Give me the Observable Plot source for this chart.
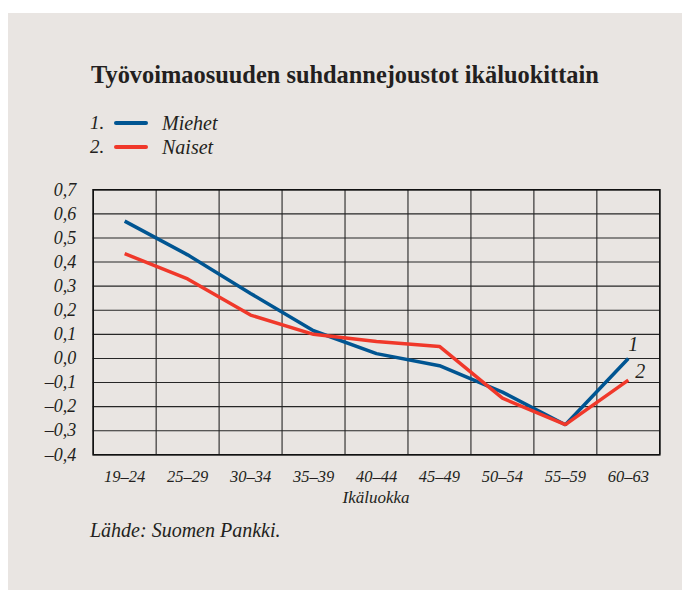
<!DOCTYPE html>
<html>
<head>
<meta charset="utf-8">
<script src="https://cdn.jsdelivr.net/npm/d3@7"></script>
<script src="https://cdn.jsdelivr.net/npm/@observablehq/plot@0.6"></script>
<style>
  html, body { margin: 0; padding: 0; background: #ffffff; }
  #page { position: relative; width: 682px; height: 590px; overflow: hidden; font-family: "Liberation Serif", "DejaVu Serif", serif; color: #231f20; }
  #panel { position: absolute; left: 8px; top: 13px; width: 674px; height: 577px; background: #e9e5e2; }
  #title { position: absolute; left: 91px; top: 62.5px; font-size: 24.4px; font-weight: bold; line-height: 24.4px; white-space: nowrap; }
  .leg { position: absolute; left: 90px; font-size: 19px; font-style: italic; line-height: 20px; white-space: nowrap; }
  .leg .sw { position: absolute; left: 24px; top: 8px; width: 34px; height: 4px; border-radius: 2px; }
  .leg .lab { position: absolute; left: 72px; top: 0; font-size: 20px; }
  #xlabel { position: absolute; left: 276px; width: 200px; text-align: center; top: 489px; font-size: 17px; font-style: italic; line-height: 17px; white-space: nowrap; }
  #caption { position: absolute; left: 90px; top: 520px; font-size: 20px; font-style: italic; line-height: 20px; white-space: nowrap; }
  #chart { position: absolute; left: 0; top: 170px; }
  #chart g[aria-label="y-axis"], #chart g[aria-label="y-axis tick label"] { font-size: 18px; }
</style>
</head>
<body>
<div id="page">
  <div id="panel"></div>
  <div id="title"></div>
  <div id="legend"></div>
  <div id="chart"></div>
  <div id="xlabel"></div>
  <div id="caption"></div>
</div>
<script>
const titleText = "Työvoimaosuuden suhdannejoustot ikäluokittain";
const captionText = "Lähde: Suomen Pankki.";
const xLabel = "Ikäluokka";
const categories = ["19–24", "25–29", "30–34", "35–39", "40–44", "45–49", "50–54", "55–59", "60–63"];
const seriesNames = ["Miehet", "Naiset"];
const seriesNumbers = ["1", "2"];
const seriesColors = ["#005592", "#f0382a"];
const miehet = [0.57, 0.43, 0.27, 0.115, 0.02, -0.03, -0.14, -0.275, 0.0];
const naiset = [0.435, 0.33, 0.18, 0.10, 0.07, 0.05, -0.165, -0.275, -0.09];
const yTicks = [-0.4, -0.3, -0.2, -0.1, 0.0, 0.1, 0.2, 0.3, 0.4, 0.5, 0.6, 0.7];

document.getElementById("title").textContent = titleText;
document.getElementById("caption").textContent = captionText;
document.getElementById("xlabel").textContent = xLabel;

const legend = document.getElementById("legend");
seriesNames.forEach((name, i) => {
  const row = document.createElement("div");
  row.className = "leg";
  row.style.top = (112.5 + i * 24) + "px";
  row.innerHTML = `<span>${seriesNumbers[i]}.</span><span class="sw" style="background:${seriesColors[i]}"></span><span class="lab">${name}</span>`;
  legend.appendChild(row);
});

const rows = [];
[miehet, naiset].forEach((vals, s) => {
  vals.forEach((v, i) => rows.push({series: seriesNames[s], idx: i, value: v}));
});
const last = categories.length - 1;
const ends = seriesNames.map((name, s) => ({
  series: name, idx: last, value: [miehet, naiset][s][last], label: seriesNumbers[s]
}));

const fmt = d => (d < -1e-9 ? "–" : "") + Math.abs(d).toFixed(1).replace(".", ",");
const idx = d3.range(categories.length);
const bounds = d3.range(categories.length + 1).map(i => i - 0.5);

const chart = Plot.plot({
  width: 682,
  height: 350,
  marginLeft: 92.7,
  marginRight: 22.7,
  marginTop: 19.3,
  marginBottom: 65.7,
  style: { background: "transparent", fontFamily: "'Liberation Serif', serif", fontStyle: "italic", fontSize: "16.5px", color: "#231f20" },
  x: { type: "linear", domain: [-0.5, last + 0.5], ticks: idx, tickFormat: i => categories[i], tickSize: 0, tickPadding: 15, label: null },
  y: { domain: [-0.4, 0.7], ticks: yTicks, tickFormat: fmt, tickSize: 0, tickPadding: 17, label: null },
  color: { domain: seriesNames, range: seriesColors },
  marks: [
    Plot.ruleY(yTicks, { stroke: "#262626", strokeWidth: 1.1 }),
    Plot.ruleX(bounds, { stroke: "#262626", strokeWidth: 1.1 }),
    Plot.frame({ stroke: "#111", strokeWidth: 1.6 }),
    Plot.line(rows, { x: "idx", y: "value", z: "series", stroke: "series", strokeWidth: 3.5, strokeLinejoin: "miter", strokeLinecap: "butt" }),
    Plot.text(ends.slice(0, 1), { x: "idx", y: "value", text: "label", dx: 5, dy: -14, fontSize: 20, fontStyle: "italic", fill: "#231f20" }),
    Plot.text(ends.slice(1, 2), { x: "idx", y: "value", text: "label", dx: 12, dy: -9, fontSize: 20, fontStyle: "italic", fill: "#231f20" })
  ]
});
document.getElementById("chart").appendChild(chart);
</script>
</body>
</html>
